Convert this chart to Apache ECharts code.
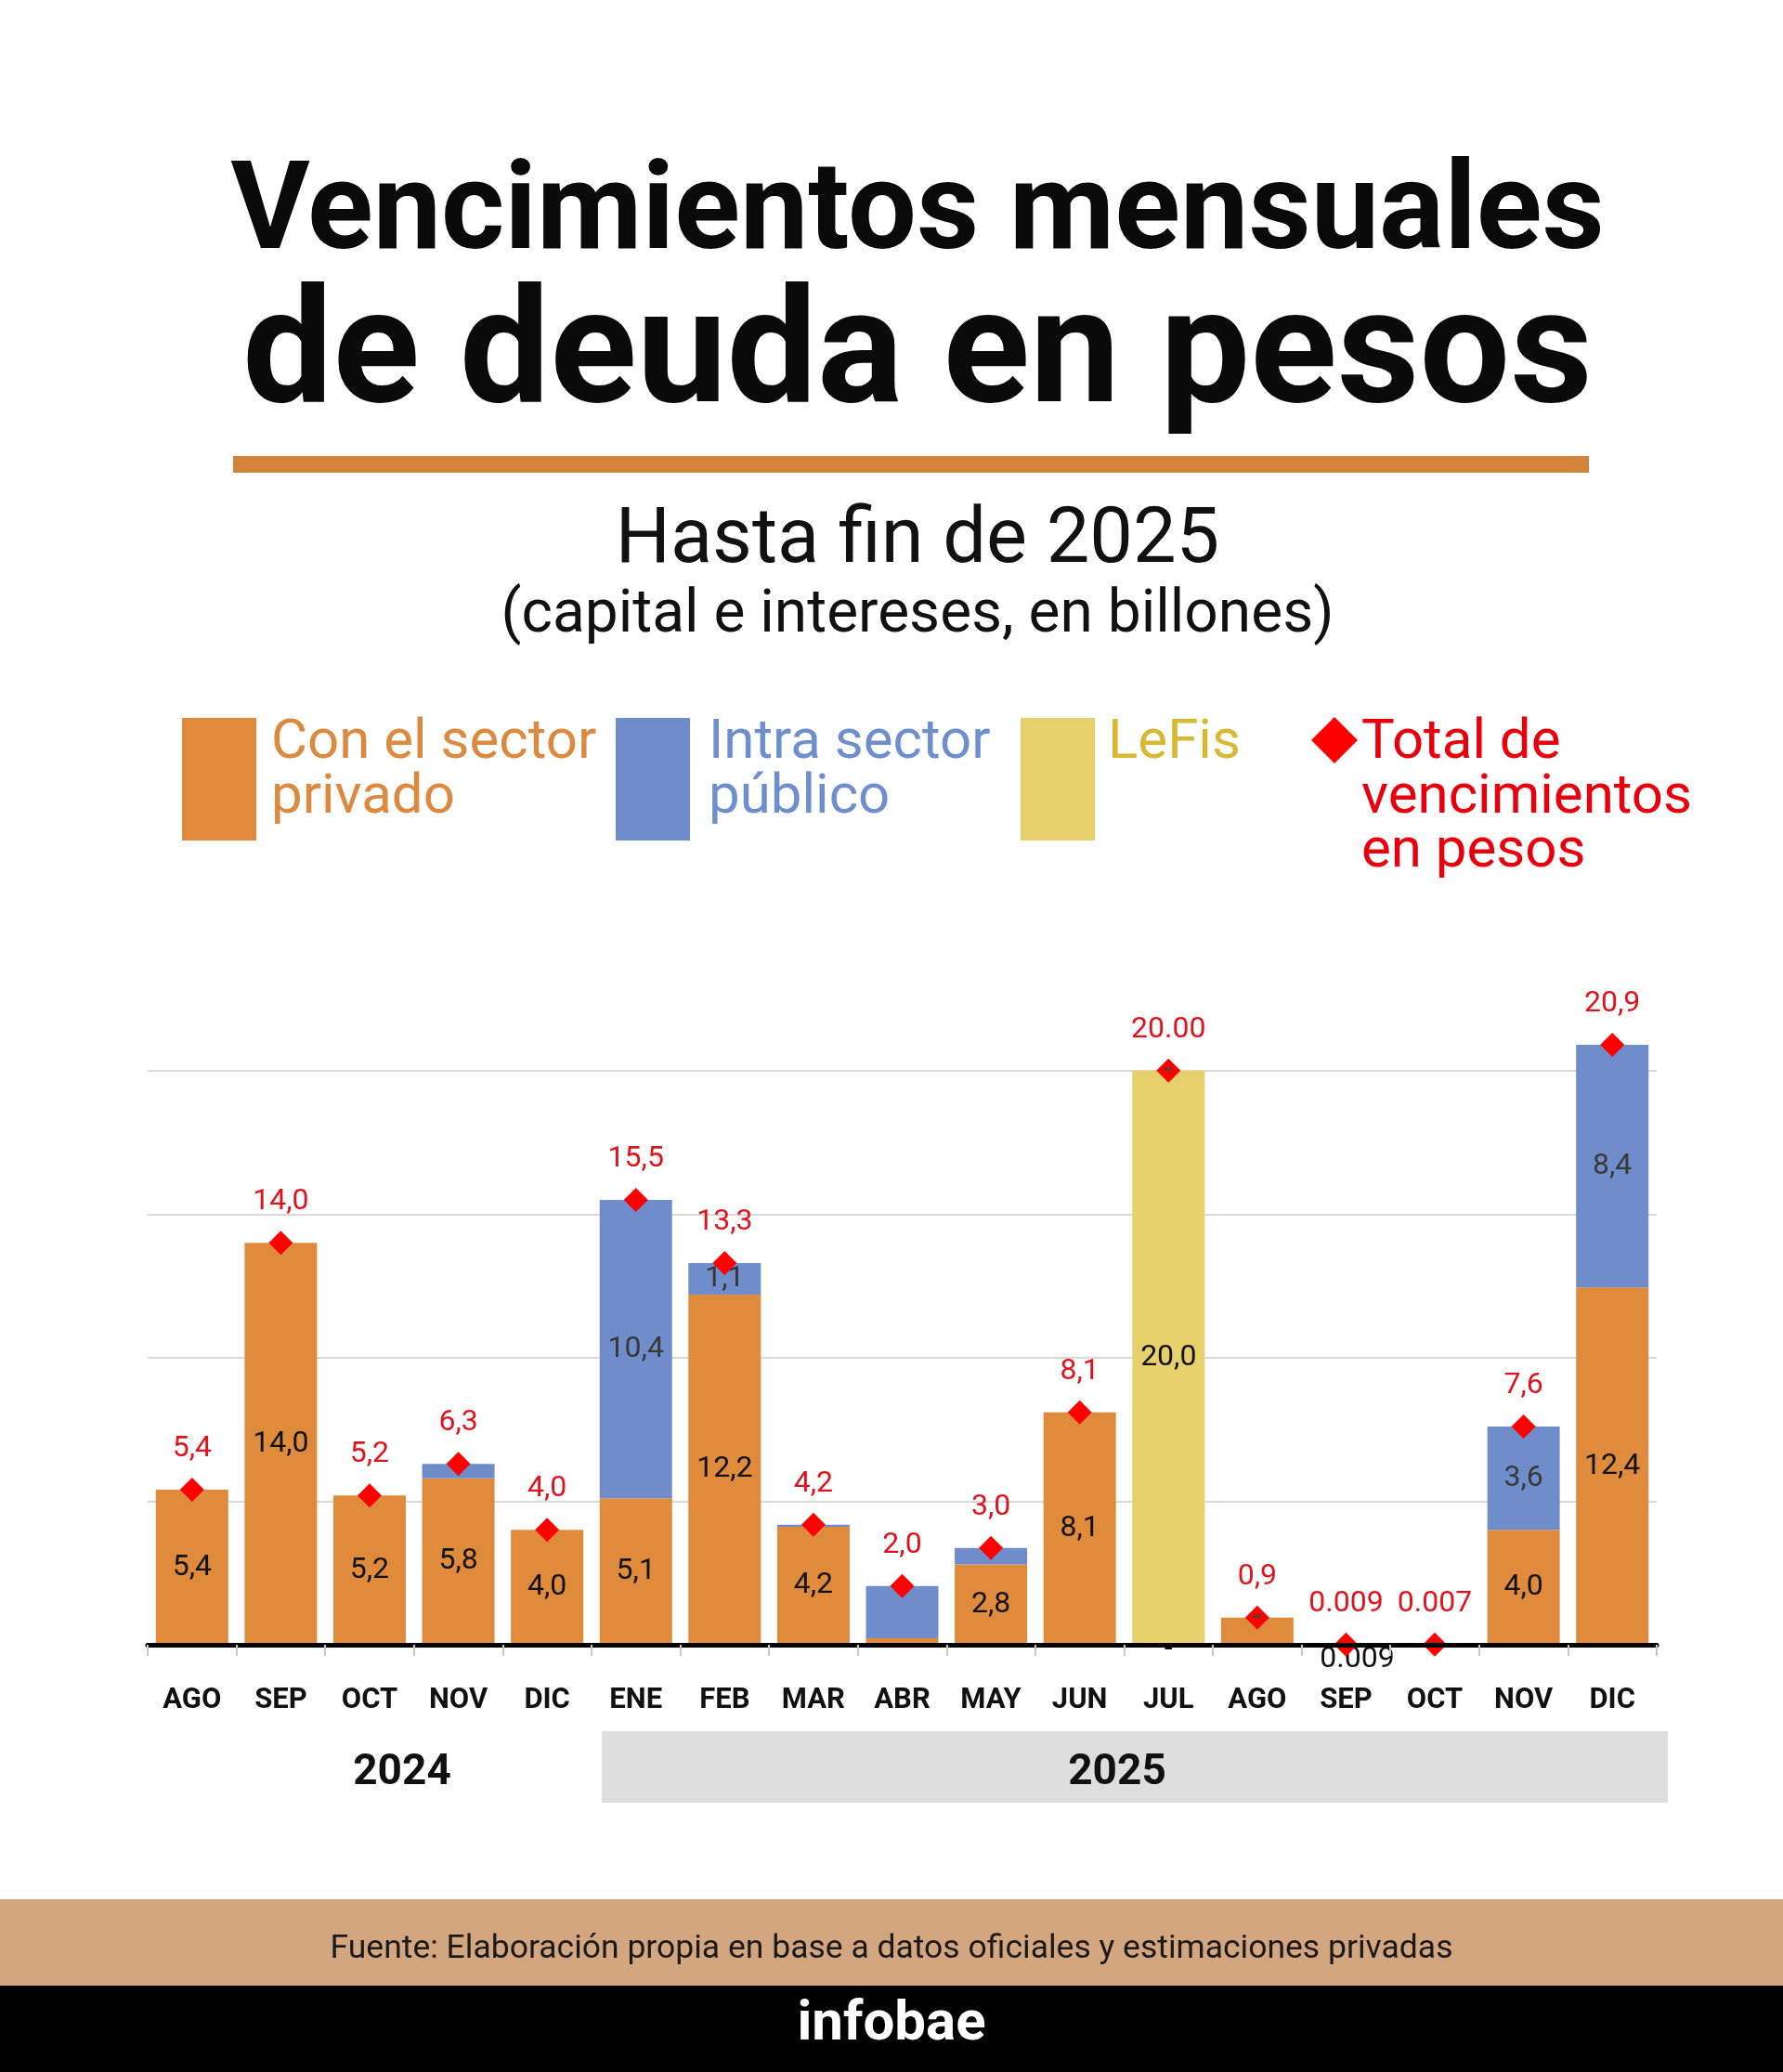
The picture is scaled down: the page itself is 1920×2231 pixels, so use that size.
<!DOCTYPE html>
<html>
<head>
<meta charset="utf-8">
<script src="https://cdn.jsdelivr.net/npm/echarts@6/dist/echarts.min.js"></script>
<style>
  html, body { margin: 0; padding: 0; background: #ffffff; }
  #chart { width: 1920px; height: 2231px; }
</style>
</head>
<body>
<div id="chart"></div>
<script>
// ---- Data ----
const months = ['AGO','SEP','OCT','NOV','DIC','ENE','FEB','MAR','ABR','MAY','JUN','JUL','AGO','SEP','OCT','NOV','DIC'];
const years = ['2024', '2025'];
const privado = [5.4, 14.0, 5.2, 5.8, 4.0, 5.1, 12.2, 4.11, 0.23, 2.8, 8.1, 0, 0.95, 0.009, 0.007, 4.0, 12.45];
const publico = [0, 0, 0, 0.5, 0, 10.4, 1.1, 0.07, 1.82, 0.57, 0, 0, 0, 0, 0, 3.6, 8.45];
const lefis   = [0, 0, 0, 0, 0, 0, 0, 0, 0, 0, 0, 20.0, 0, 0, 0, 0, 0];
const total   = [5.4, 14.0, 5.2, 6.3, 4.0, 15.5, 13.3, 4.18, 2.05, 3.37, 8.1, 20.0, 0.95, 0.009, 0.007, 7.6, 20.9];
const privadoLabels = ['5,4','14,0','5,2','5,8','4,0','5,1','12,2','4,2','','2,8','8,1','-','','0.009','','4,0','12,4'];
const publicoLabels = ['','','','','','10,4','1,1','','','','','','','','','3,6','8,4'];
const lefisLabels   = ['','','','','','','','','','','','20,0','','','','',''];
const totalLabels   = ['5,4','14,0','5,2','6,3','4,0','15,5','13,3','4,2','2,0','3,0','8,1','20.00','0,9','0.009','0.007','7,6','20,9'];
const dashLabels    = ['','','','','','','','','','','','-','-','','-','',''];
const seriesNames = ['Con el sector privado', 'Intra sector público', 'LeFis', 'Total de vencimientos en pesos'];

const FONT = 'Roboto, "Noto Sans", sans-serif';
const C_ORANGE = '#E08A3C', C_BLUE = '#6F8DCB', C_YELLOW = '#E7CF6B', C_RED = '#FF0000', C_RED_TXT = '#E0141E';

function barItem(v, lab) {
  const item = { value: v };
  if (!lab) item.label = { show: false };
  else if (lab === '-') item.label = { show: true, formatter: lab, position: 'inside', offset: [0, 5] };
  else if (v < 0.1) item.label = { show: true, formatter: lab, position: 'bottom', distance: 0, offset: [12, 0] };
  else item.label = { show: true, formatter: lab };
  return item;
}

const barLabel = { show: true, position: 'inside', fontSize: 32, fontFamily: FONT, color: '#111' };

const chart = echarts.init(document.getElementById('chart'), null, { renderer: 'canvas' });

function txt(text, x, y, size, weight, color, align, vAlign, lineHeight) {
  return {
    type: 'text', z: 100, silent: true,
    style: {
      text: text, x: x, y: y, fill: color,
      fontSize: size, fontWeight: weight, fontFamily: FONT,
      align: align || 'center', verticalAlign: vAlign || 'middle',
      lineHeight: lineHeight || undefined
    }
  };
}

const HX = 988; // horizontal centre of the header block
const graphics = [
  txt('Vencimientos mensuales', HX, 234, 131, 'bold', '#0a0a0a'),
  txt('de deuda en pesos', HX, 389, 173, 'bold', '#0a0a0a'),
  { type: 'rect', shape: { x: 251, y: 491, width: 1460, height: 18 }, style: { fill: '#D4843A' }, silent: true },
  txt('Hasta fin de 2025', HX, 584, 83, 'normal', '#111'),
  txt('(capital e intereses, en billones)', HX, 664, 64, 'normal', '#111'),
  // legend
  { type: 'rect', shape: { x: 196, y: 773, width: 80, height: 132 }, style: { fill: C_ORANGE }, silent: true },
  txt('Con el sector\nprivado', 292, 772, 60, 'normal', '#DB8A3F', 'left', 'top', 58.5),
  { type: 'rect', shape: { x: 663, y: 773, width: 80, height: 132 }, style: { fill: C_BLUE }, silent: true },
  txt('Intra sector\npúblico', 763, 772, 60, 'normal', '#6F8ECE', 'left', 'top', 58.5),
  { type: 'rect', shape: { x: 1099, y: 773, width: 80, height: 132 }, style: { fill: C_YELLOW }, silent: true },
  txt('LeFis', 1193, 772, 60, 'normal', '#D6B934', 'left', 'top', 58.5),
  { type: 'polygon', shape: { points: [[1437, 772], [1462, 797], [1437, 822], [1412, 797]] }, style: { fill: C_RED }, silent: true },
  txt('Total de\nvencimientos\nen pesos', 1466, 772, 60, 'normal', '#E8000D', 'left', 'top', 58.5),
  // year band
  { type: 'rect', shape: { x: 648, y: 1864, width: 1148, height: 77 }, style: { fill: '#DEDEDE' }, silent: true, z: 1 },
  txt(years[0], 433, 1909, 46, 'bold', '#111'),
  txt(years[1], 1203, 1909, 46, 'bold', '#111'),
  // footer
  { type: 'rect', shape: { x: 0, y: 2045, width: 1920, height: 93 }, style: { fill: '#D4A680' }, silent: true },
  txt('Fuente: Elaboración propia en base a datos oficiales y estimaciones privadas', 960, 2099, 35.5, 'normal', '#1a1a1a'),
  { type: 'rect', shape: { x: 0, y: 2138, width: 1920, height: 93 }, style: { fill: '#000000' }, silent: true },
  txt('infobae', 960, 2181, 60, 'bold', '#ffffff')
];

const option = {
  animation: false,
  backgroundColor: '#ffffff',
  grid: { left: 159, right: 136, top: 1091, bottom: 460, containLabel: false },
  xAxis: {
    type: 'category',
    data: months,
    z: 10,
    axisLine: { lineStyle: { color: '#000', width: 5 } },
    axisTick: { show: true, alignWithLabel: false, length: 12, lineStyle: { color: '#c8c8c8', width: 2 } },
    axisLabel: { interval: 0, fontSize: 31, fontWeight: 'bold', color: '#111', margin: 45, fontFamily: FONT }
  },
  yAxis: {
    type: 'value', min: 0, max: 22, interval: 5,
    axisLine: { show: false }, axisTick: { show: false }, axisLabel: { show: false },
    splitLine: { show: true, showMaxLine: false, lineStyle: { color: '#d9d9d9', width: 2 } }
  },
  graphic: { elements: graphics },
  series: [
    {
      name: seriesNames[0], type: 'bar', stack: 'a', barWidth: 78,
      itemStyle: { color: C_ORANGE }, label: barLabel,
      data: privado.map((v, i) => barItem(v, privadoLabels[i]))
    },
    {
      name: seriesNames[2], type: 'bar', stack: 'a', barWidth: 78,
      itemStyle: { color: C_YELLOW }, label: barLabel,
      data: lefis.map((v, i) => barItem(v, lefisLabels[i]))
    },
    {
      name: seriesNames[1], type: 'bar', stack: 'a', barWidth: 78,
      itemStyle: { color: C_BLUE }, label: Object.assign({}, barLabel, { color: '#383838' }),
      data: publico.map((v, i) => barItem(v, publicoLabels[i]))
    },
    {
      name: seriesNames[3], type: 'line', z: 5,
      symbol: 'diamond', symbolSize: 26, showAllSymbol: true,
      lineStyle: { opacity: 0, width: 0 },
      itemStyle: { color: C_RED },
      label: { show: true, position: 'top', distance: 15, color: C_RED_TXT, fontSize: 32, fontFamily: FONT },
      data: total.map((v, i) => ({ value: v, label: { formatter: totalLabels[i] } }))
    },
    {
      name: 'marcas', type: 'scatter', z: 6, symbolSize: 1,
      itemStyle: { color: 'rgba(0,0,0,0)' },
      label: { show: true, position: 'inside', color: '#444', fontSize: 30, fontWeight: 'bold', fontFamily: FONT },
      data: dashLabels.map((l, i) => l ? { value: [i, total[i]], label: { formatter: l } } : null).filter(Boolean)
    }
  ]
};

chart.setOption(option);
</script>
</body>
</html>
